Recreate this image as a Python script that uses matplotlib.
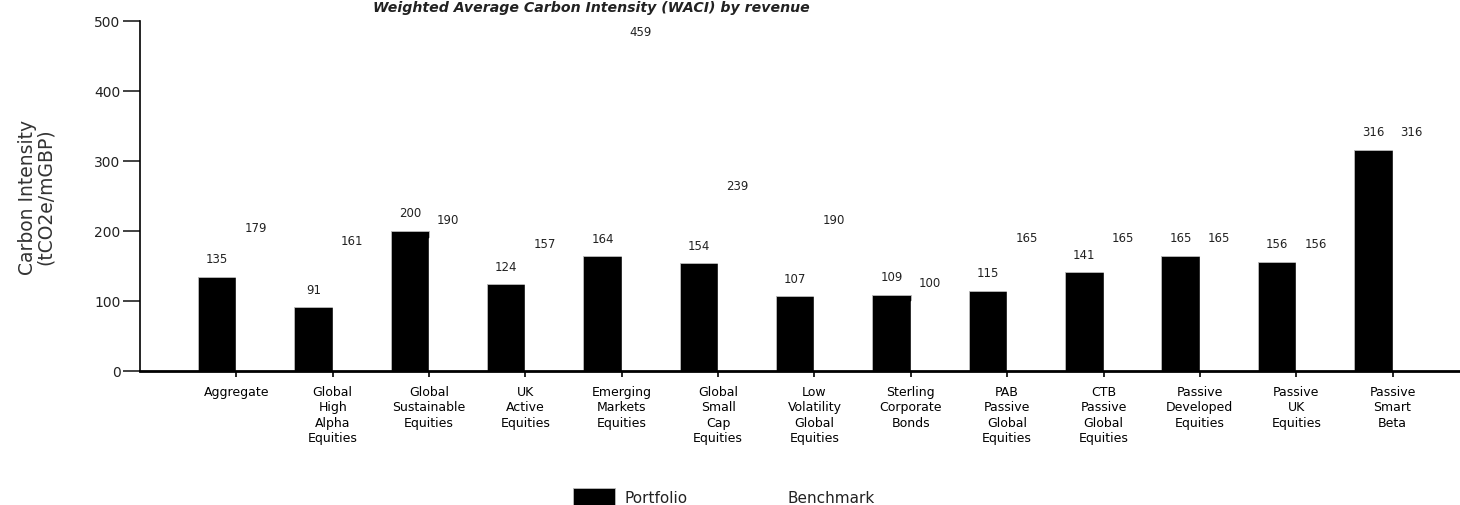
import numpy as np
import matplotlib.pyplot as plt

#   WACI chart - portfolio vs benchmark

categories = ["Aggregate", "Global\nHigh\nAlpha\nEquities", "Global\nSustainable\nEquities",
              "UK\nActive\nEquities", "Emerging\nMarkets\nEquities", "Global\nSmall\nCap\nEquities",
              "Low\nVolatility\nGlobal\nEquities", "Sterling\nCorporate\nBonds",
              "PAB\nPassive\nGlobal\nEquities", "CTB\nPassive\nGlobal\nEquities",
              "Passive\nDeveloped\nEquities", "Passive\nUK\nEquities", "Passive\nSmart\nBeta"]
portfolio = [135, 91, 200, 124, 164, 154, 107, 109, 115, 141, 165, 156, 316]
benchmark = [179, 161, 190, 157, 459, 239, 190, 100, 165, 165, 165, 156, 316]

plt.rcParams['font.family'] = ['DejaVu Sans']
plt.rcParams['text.color'] = '#222222'

fig = plt.figure(figsize=(14.6, 5.06), dpi=100)
ax = fig.add_axes([140 / 1460, 1 - 372 / 506, 1320 / 1460, 350 / 506])

x = np.arange(len(categories))
w = 0.4
b1 = ax.bar(x - w / 2, portfolio, w, color='black', edgecolor='#bbbbbb', linewidth=0.6, label='Portfolio')
b2 = ax.bar(x + w / 2, benchmark, w, color='white', edgecolor='white', label='Benchmark')

for i in range(len(x)):
	ax.annotate(str(portfolio[i]), (x[i] - w / 2, portfolio[i]), xytext=(0, 13), textcoords='offset points',
	            ha='center', va='center', fontsize=8.5)
	ax.annotate(str(benchmark[i]), (x[i] + w / 2, benchmark[i]), xytext=(0, 13), textcoords='offset points',
	            ha='center', va='center', fontsize=8.5)

ax.set_xlim(-1, 12.7)
ax.set_ylim(0, 500)
ax.set_yticks([0, 100, 200, 300, 400, 500])
ax.set_xticks(x)
ax.set_xticklabels(categories, fontsize=9, linespacing=1.25)
ax.tick_params(axis='y', length=12, width=1.2, labelsize=10, pad=2, colors='#222222')
ax.tick_params(axis='x', length=4, width=1.2, pad=6)
for s in ['top', 'right']:
	ax.spines[s].set_visible(False)
ax.spines['left'].set_linewidth(1.2)
ax.spines['bottom'].set_linewidth(2)
ax.set_ylabel("Carbon Intensity\n(tCO2e/mGBP)", fontsize=13.5, linespacing=0.95, labelpad=28, color='#333333')

#   title is right at the top edge, as in the original
fig.text(0.405, 1 - 12 / 506, "Weighted Average Carbon Intensity (WACI) by revenue", ha='center', va='baseline',
         fontsize=10.2, fontweight='bold', fontstyle='italic')

fig.legend(handles=[b1, b2], loc='lower center', bbox_to_anchor=(0.496, -0.03), ncol=2, frameon=False,
           fontsize=11, handlelength=2.7, handleheight=1.5, handletextpad=0.65, columnspacing=3.2)

fig.savefig("out.png", dpi=100)
